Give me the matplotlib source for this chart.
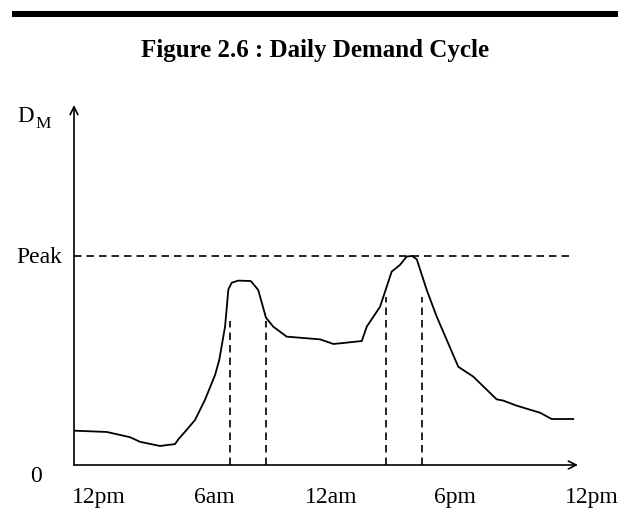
import matplotlib
matplotlib.use('Agg')
import matplotlib.pyplot as plt
from matplotlib.patches import Rectangle

# demand curve (hours from the left 12pm, demand in % of peak)
hours = [0.05, 1.58, 2.70, 3.18, 4.14, 4.87, 5.03, 5.35, 5.83, 6.31, 6.80, 7.00,
         7.28, 7.44, 7.60, 7.92, 8.52, 8.88, 9.25, 9.60, 10.25, 11.86, 12.50,
         12.82, 13.87, 14.11, 14.75, 15.31, 15.71, 16.03, 16.29, 16.52, 17.00,
         17.48, 18.52, 19.24, 20.37, 20.69, 21.33, 22.46, 23.02, 24.06]
demand = [16.4, 15.8, 13.3, 11.1, 9.1, 10.0, 12.3, 15.9, 21.5, 31.1, 43.1, 50.2,
          66.2, 84.0, 87.2, 88.2, 88.0, 83.7, 70.5, 66.2, 61.4, 60.1, 57.9,
          58.2, 59.3, 66.2, 75.7, 92.5, 95.7, 99.7, 100.0, 98.4, 83.7,
          71.0, 47.0, 42.3, 31.4, 30.8, 28.4, 25.0, 22.0, 22.0]

peak = 100.0
peak_end = 23.9

# dashed verticals marking the two peak periods
morning_marks = [7.52, 9.24]
morning_top = 69.0
evening_marks = [15.02, 16.76]
evening_top = 80.5

tick_pos = [1.20, 6.75, 12.39, 18.36, 24.96]
tick_labels = ['12pm', '6am', '12am', '6pm', '12pm']

xmax = 24.29
ymax = 172.2

plt.rcParams['font.family'] = ['Liberation Serif', 'DejaVu Serif']

fig = plt.figure(figsize=(6.18, 5.23), dpi=100)

# thick rule across the top
fig.patches.append(Rectangle((12 / 618, (523 - 16.5) / 523), 1.0, 5.5 / 523,
                             transform=fig.transFigure, color='black', lw=0))
fig.text(0.51, (523 - 51) / 523, 'Figure 2.6 : Daily Demand Cycle',
         ha='center', va='center', fontsize=18, fontweight='bold')

ax = fig.add_axes([74 / 618, 58 / 523, 504 / 618, 360 / 523])
ax.set_xlim(0, xmax)
ax.set_ylim(0, ymax)
ax.axis('off')

ax.plot(hours, demand, color='black', lw=1.3, solid_joinstyle='round')

dash = (0, (4.5, 3))
ax.plot([0, peak_end], [peak, peak], color='black', lw=1.2, linestyle=dash)
for x in morning_marks:
    ax.plot([x, x], [0, morning_top], color='black', lw=1.2, linestyle=dash)
for x in evening_marks:
    ax.plot([x, x], [0, evening_top], color='black', lw=1.2, linestyle=dash)

# axes drawn as arrows
arrow = dict(arrowstyle='->', color='black', lw=1.2, mutation_scale=14,
             shrinkA=0, shrinkB=0)
ax.annotate('', xy=(xmax, 0), xytext=(0, 0), arrowprops=arrow, annotation_clip=False)
ax.annotate('', xy=(0, ymax), xytext=(0, 0), arrowprops=arrow, annotation_clip=False)

for x, lab in zip(tick_pos, tick_labels):
    ax.text(x, -18.2, lab, ha='center', va='baseline', fontsize=17, clip_on=False)

ax.text(-1.83, -8.1, '0', ha='center', va='baseline', fontsize=17, clip_on=False)
ax.text(-0.59, 96.7, 'Peak', ha='right', va='baseline', fontsize=17, clip_on=False)
ax.text(-2.73, 164.3, 'D', ha='left', va='baseline', fontsize=16.5, clip_on=False)
ax.text(-1.88, 161.1, 'M', ha='left', va='baseline', fontsize=12.5, clip_on=False)

fig.savefig('out.png', dpi=100)
